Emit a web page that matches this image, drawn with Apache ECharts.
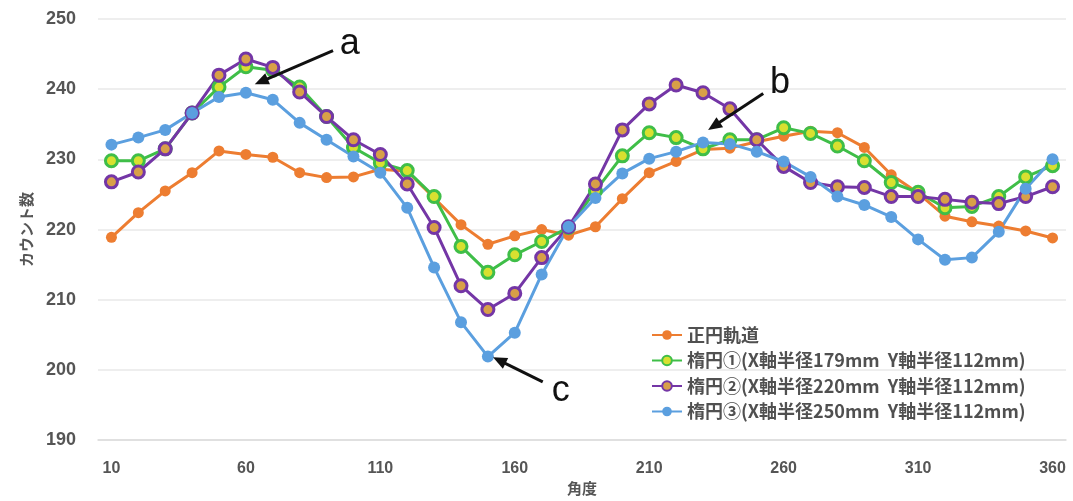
<!DOCTYPE html>
<html><head><meta charset="utf-8">
<script src="https://cdn.jsdelivr.net/npm/echarts@6/dist/echarts.min.js"></script>
<style>html,body{margin:0;padding:0;background:#fff}#c{width:1073px;height:501px}</style>
</head><body><div id="c"></div>
<script>
// ---- data ----
const angles = ['10','20','30','40','50','60','70','80','90','100','110','120','130','140','150','160','170','180',
  '190','200','210','220','230','240','250','260','270','280','290','300','310','320','330','340','350','360'];
const seriesNames = ['正円軌道','楕円①(X軸半径179mm  Y軸半径112mm)','楕円②(X軸半径220mm  Y軸半径112mm)','楕円③(X軸半径250mm  Y軸半径112mm)'];
const circleOrbit = [218.9,222.4,225.5,228.1,231.2,230.7,230.3,228.1,227.4,227.5,228.6,228.3,224.5,220.7,217.9,219.1,220.0,219.2,
  220.4,224.4,228.1,229.7,231.4,231.6,232.5,233.3,234.0,233.8,231.7,227.8,225.2,221.9,221.1,220.5,219.8,218.8];
const ellipse1 = [229.8,229.8,231.5,236.6,240.3,243.2,242.7,240.3,236.1,231.7,229.5,228.4,224.7,217.6,213.9,216.4,218.3,220.3,
  225.5,230.5,233.8,233.1,231.5,232.8,232.8,234.5,233.7,231.9,229.8,226.7,225.3,223.1,223.3,224.7,227.5,229.1];
const ellipse2 = [226.8,228.2,231.5,236.6,242.0,244.3,243.1,239.6,236.1,232.8,230.7,226.5,220.3,212.0,208.6,210.9,216.0,220.4,
  226.5,234.2,237.9,240.6,239.5,237.2,232.8,229.0,226.7,226.1,226.0,224.7,224.7,224.3,223.9,223.7,224.7,226.1];
const ellipse3 = [232.1,233.1,234.2,236.6,238.9,239.5,238.5,235.2,232.8,230.4,228.1,223.1,214.6,206.8,201.9,205.3,213.6,220.4,
  224.5,228.0,230.1,231.1,232.4,232.2,231.1,229.7,227.5,224.7,223.5,221.8,218.6,215.7,216.0,219.7,225.8,230.0];
const yMin = 190, yMax = 250, yInterval = 10;
const xAxisName = '角度', yAxisName = 'カウント数';
// annotation anchors in data units: [category index (fractional), value]
const annLabels = ['a','b','c'];
const annTips  = [[5.33,240.7],[22.19,234.2],[14.19,201.8]];
const annTails = [[8.24,245.5],[24.24,239.4],[16.04,198.3]];
const annTexts = [[8.86,246.4],[24.86,240.8],[16.71,197.0]];

// ---- chart ----
const chart = echarts.init(document.getElementById('c'), null, {renderer:'canvas'});
const txtGray = '#555555';
function lineSeries(name, data, color, fill, size){
  return {
    name, type:'line', data, symbol:'circle', symbolSize:size,
    lineStyle:{color, width:3},
    itemStyle:{color:fill, borderColor:color, borderWidth: fill===color?0:3},
    emphasis:{disabled:true}
  };
}
chart.setOption({
  animation:false,
  backgroundColor:'#ffffff',
  grid:{left:98, right:7, top:19, bottom:59.5, containLabel:false},
  xAxis:{
    type:'category', data:angles, boundaryGap:true,
    name:xAxisName, nameLocation:'middle', nameGap:37,
    nameTextStyle:{fontSize:15, fontWeight:'bold', color:txtGray, fontFamily:'Noto Sans CJK JP'},
    axisLine:{lineStyle:{color:'#dcdcdc', width:1.5}},
    axisTick:{show:false},
    axisLabel:{interval:4, margin:20, fontSize:16, fontWeight:'bold', color:txtGray, fontFamily:'Liberation Sans'},
    splitLine:{show:false}
  },
  yAxis:{
    type:'value', min:yMin, max:yMax, interval:yInterval,
    name:yAxisName, nameLocation:'middle', nameGap:64, nameRotate:90,
    nameTextStyle:{fontSize:15, fontWeight:'bold', color:txtGray, fontFamily:'Noto Sans CJK JP'},
    axisLine:{show:false}, axisTick:{show:false},
    axisLabel:{margin:22, fontSize:18, fontWeight:'bold', color:txtGray, fontFamily:'Liberation Sans'},
    splitLine:{lineStyle:{color:'#e8e8e8', width:1.5}}
  },
  legend:{
    orient:'vertical', left:646, top:321, itemWidth:30, itemHeight:12, itemGap:7.5,
    textStyle:{fontSize:18, fontWeight:'bold', color:'#505050', fontFamily:'Noto Sans CJK JP', lineHeight:18},
    data:seriesNames
  },
  series:[
    lineSeries(seriesNames[0], circleOrbit, '#ED7D31', '#ED7D31', 11),
    lineSeries(seriesNames[1], ellipse1, '#3FBE48', '#D8E030', 12),
    lineSeries(seriesNames[2], ellipse2, '#7436A6', '#D8A048', 12),
    lineSeries(seriesNames[3], ellipse3, '#5B9FDF', '#5B9FDF', 12)
  ]
});

function px(p){
  const i0 = Math.floor(p[0]), f = p[0]-i0;
  const a = chart.convertToPixel({gridIndex:0},[i0,p[1]]);
  const b = chart.convertToPixel({gridIndex:0},[i0+1,p[1]]);
  return [a[0]+f*(b[0]-a[0]), a[1]];
}
const g = [];
annLabels.forEach((lab,k)=>{
  const tip = px(annTips[k]), tail = px(annTails[k]), tp = px(annTexts[k]);
  const dx = tip[0]-tail[0], dy = tip[1]-tail[1], L = Math.hypot(dx,dy);
  const ux = dx/L, uy = dy/L, hl = 14, hw = 6;
  const base = [tip[0]-ux*hl, tip[1]-uy*hl];
  g.push({type:'line', shape:{x1:tail[0],y1:tail[1],x2:base[0]+ux*2,y2:base[1]+uy*2}, style:{stroke:'#111',lineWidth:3}, z:100});
  g.push({type:'polygon', shape:{points:[tip,[base[0]-uy*hw,base[1]+ux*hw],[base[0]+uy*hw,base[1]-ux*hw]]}, style:{fill:'#111'}, z:100});
  g.push({type:'text', x:tp[0], y:tp[1], style:{text:lab, fontSize:36, fontFamily:'Liberation Sans', fill:'#111', align:'center', verticalAlign:'middle'}, z:100});
});
chart.setOption({graphic:g});
</script>
</body></html>
